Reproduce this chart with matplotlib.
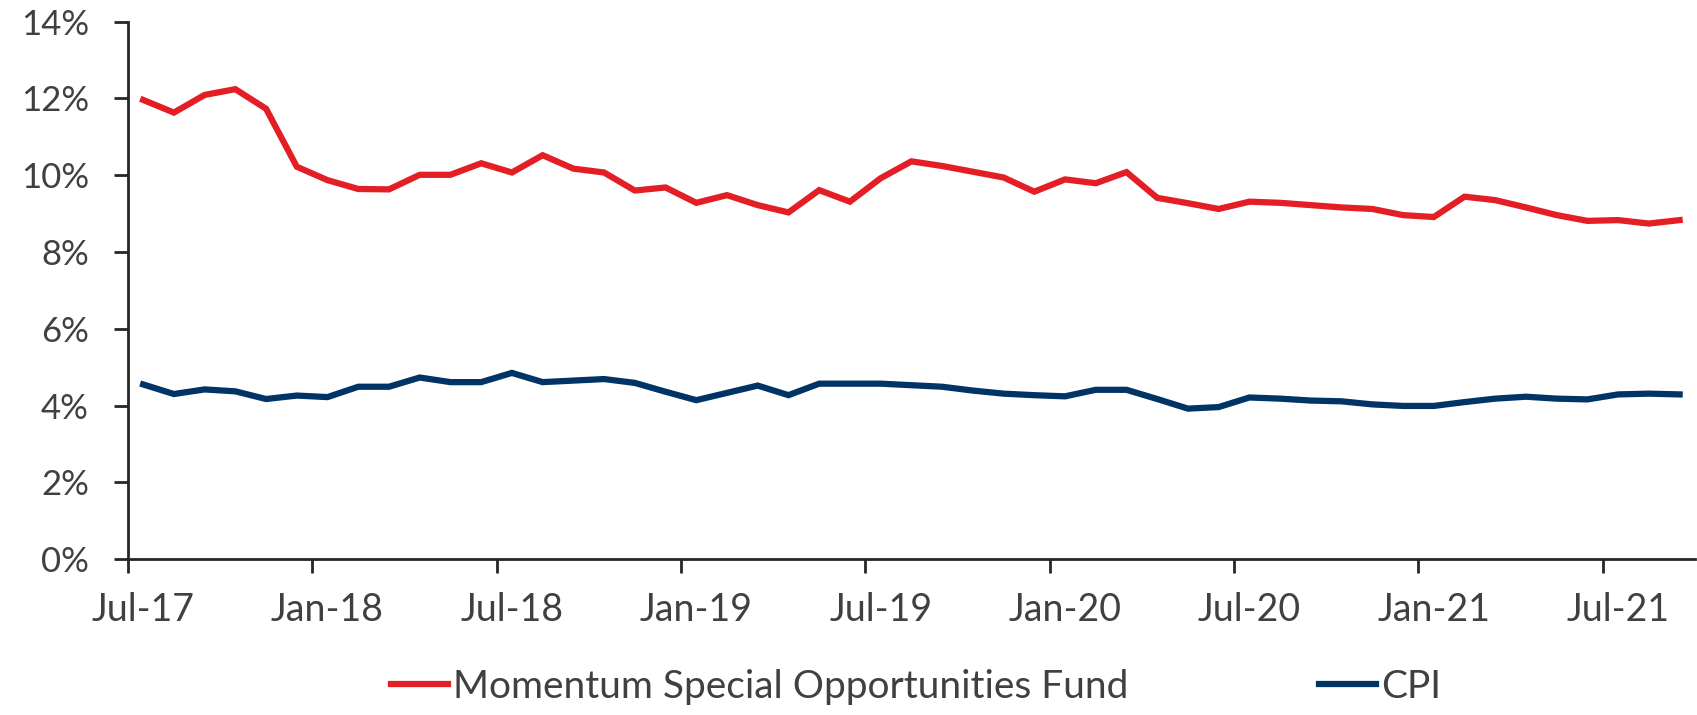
import matplotlib
matplotlib.use("Agg")
import matplotlib.pyplot as plt
import numpy as np

# monthly rolling returns, Jul-17 .. Sep-21 (%)
months = ["Jul-17", "Jan-18", "Jul-18", "Jan-19", "Jul-19", "Jan-20", "Jul-20", "Jan-21", "Jul-21"]
fund = [11.96, 11.63, 12.09, 12.24, 11.73, 10.22, 9.87, 9.64, 9.63, 10.01,
        10.01, 10.31, 10.07, 10.52, 10.17, 10.07, 9.60, 9.68, 9.28, 9.48,
        9.22, 9.03, 9.61, 9.31, 9.92, 10.36, 10.24, 10.09, 9.94, 9.57,
        9.89, 9.79, 10.08, 9.41, 9.27, 9.12, 9.31, 9.28, 9.22, 9.16,
        9.12, 8.96, 8.91, 9.44, 9.35, 9.16, 8.96, 8.81, 8.83, 8.74, 8.83]
cpi = [4.55, 4.30, 4.42, 4.37, 4.17, 4.26, 4.22, 4.49, 4.49, 4.73,
       4.61, 4.61, 4.85, 4.61, 4.65, 4.69, 4.59, 4.36, 4.14, 4.33,
       4.52, 4.27, 4.57, 4.57, 4.57, 4.53, 4.49, 4.39, 4.31, 4.27,
       4.24, 4.41, 4.41, 4.17, 3.92, 3.96, 4.21, 4.18, 4.13, 4.11,
       4.03, 3.99, 3.99, 4.09, 4.18, 4.23, 4.18, 4.16, 4.29, 4.31, 4.29]

plt.rcParams['font.family'] = ['Lato', 'DejaVu Sans']
txt = '#404040'
axc = '#262626'

fig = plt.figure(figsize=(16.97, 7.15), dpi=100)
ax = fig.add_axes([0.0753, 0.218, 0.9235, 0.7518])

x = np.arange(len(fund))
ax.plot(x, fund, color='#E31E24', lw=4.5, label='Momentum Special Opportunities Fund',
        solid_joinstyle='miter')
ax.plot(x, cpi, color='#003466', lw=4.5, label='CPI', solid_joinstyle='miter')

ax.set_xlim(-0.5, len(fund) - 0.5)
ax.set_ylim(0, 14)
ax.set_yticks(np.arange(0, 15, 2))
ax.set_yticklabels([f'{v}%' for v in range(0, 15, 2)])
ax.set_xticks(np.arange(0, 49, 6))
ax.set_xticklabels(months)
ax.set_xticks(np.arange(-0.5, 48, 6), minor=True)

for s in ['top', 'right']:
    ax.spines[s].set_visible(False)
for s in ['left', 'bottom']:
    ax.spines[s].set_color(axc)
    ax.spines[s].set_linewidth(2.0)

ax.tick_params(axis='y', length=10, width=2, color=axc, labelsize=25, labelcolor=txt, pad=18)
ax.tick_params(axis='x', which='major', length=0, labelsize=27, labelcolor=txt, pad=24)
ax.tick_params(axis='x', which='minor', length=10, width=2, color=axc)

leg = fig.legend(loc='lower center', ncol=2, frameon=False, fontsize=28,
                 bbox_to_anchor=(0.54, -0.035), handlelength=1.45, handletextpad=0.15,
                 columnspacing=4.9)
for t in leg.get_texts():
    t.set_color(txt)

fig.savefig('out.png', dpi=100)
